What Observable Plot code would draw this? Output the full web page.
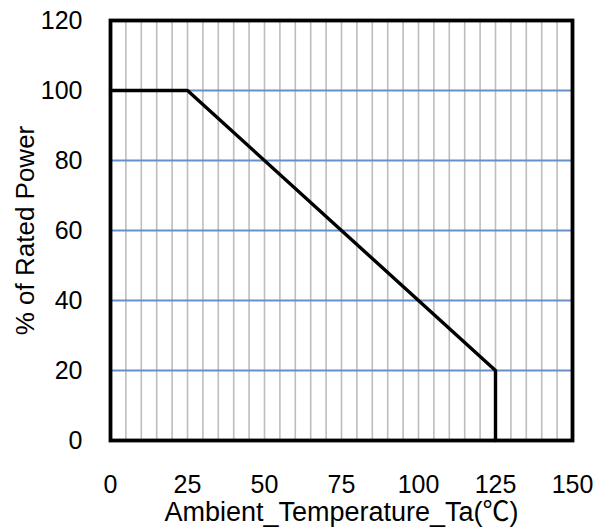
<!DOCTYPE html>
<html>
<head>
<meta charset="utf-8">
<script src="https://cdn.jsdelivr.net/npm/d3@7"></script>
<script src="https://cdn.jsdelivr.net/npm/@observablehq/plot@0.6"></script>
<style>
  html, body { margin: 0; padding: 0; background: #fff; }
  svg { font-family: "Liberation Sans", Arial, "Noto Sans CJK SC", sans-serif; }
</style>
</head>
<body>
<div id="chart"></div>
<script>
const temperature = [0, 25, 125, 125];
const ratedPower = [100, 100, 20, 0];
const xTicks = [0, 25, 50, 75, 100, 125, 150];
const yTicks = [0, 20, 40, 60, 80, 100, 120];
const xMinorGrid = d3.range(5, 150, 5);
const yGrid = [20, 40, 60, 80, 100];
const xLabel = "Ambient_Temperature_Ta(℃)";
const yLabel = "% of Rated Power";

const curve = temperature.map((t, i) => ({t, p: ratedPower[i]}));

const chart = Plot.plot({
  width: 599,
  height: 529,
  marginLeft: 110,
  marginRight: 27,
  marginTop: 20,
  marginBottom: 89,
  style: {fontFamily: '"Liberation Sans", Arial, "Noto Sans CJK SC", sans-serif', background: "#fff"},
  x: {domain: [0, 150]},
  y: {domain: [0, 120]},
  marks: [
    Plot.ruleX(xMinorGrid, {stroke: "#bdbdbd", strokeWidth: 1.6}),
    Plot.ruleY(yGrid, {stroke: "#6590c9", strokeWidth: 1.8}),
    Plot.line(curve, {x: "t", y: "p", stroke: "#000", strokeWidth: 3.4}),
    Plot.frame({stroke: "#000", strokeWidth: 3.8}),
    Plot.axisX({ticks: xTicks, tickSize: 0, tickPadding: 35, fontSize: 25, fill: "#000", label: null}),
    Plot.axisY({ticks: yTicks, tickSize: 0, tickPadding: 28, fontSize: 25, fill: "#000", label: null}),
    Plot.text([xLabel], {text: d => d, frameAnchor: "bottom", textAnchor: "middle", lineAnchor: "middle", dy: 72, fontSize: 27, fill: "#000"}),
    Plot.text([yLabel], {text: d => d, frameAnchor: "left", textAnchor: "middle", lineAnchor: "middle", rotate: -90, dx: -85, fontSize: 26, fill: "#000"})
  ]
});
document.getElementById("chart").appendChild(chart);
</script>
</body>
</html>
